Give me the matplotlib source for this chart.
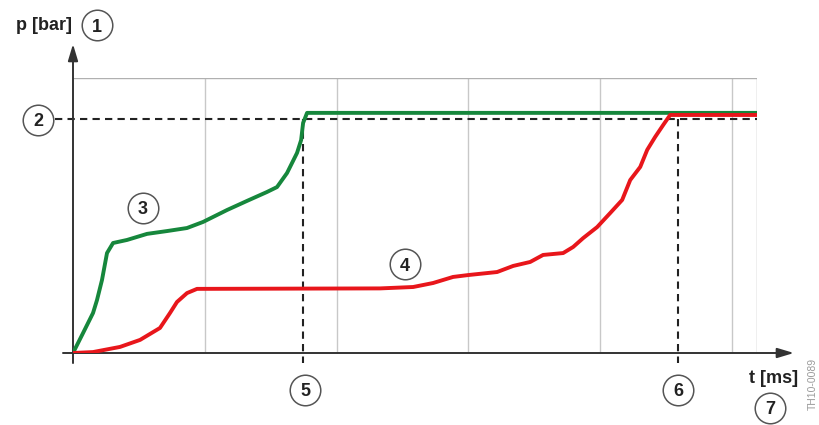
import matplotlib
matplotlib.use("Agg")
import matplotlib.pyplot as plt

plt.rcParams["font.family"] = ["Liberation Sans", "DejaVu Sans"]

# pressure build-up curves, t in ms, p in bar
t_green = [0, 0.076, 0.152, 0.182, 0.220, 0.258, 0.304, 0.410, 0.562, 0.713,
           0.865, 0.987, 1.169, 1.321, 1.472, 1.548, 1.624, 1.700, 1.731,
           1.746, 1.776, 5.19]
p_green = [0, 0.85, 1.71, 2.26, 3.12, 4.27, 4.70, 4.83, 5.09, 5.21,
           5.34, 5.60, 6.11, 6.50, 6.88, 7.09, 7.69, 8.55, 9.10,
           9.83, 10.26, 10.26]

t_red = [0, 0.152, 0.357, 0.509, 0.660, 0.736, 0.789, 0.865, 0.941, 2.33,
         2.581, 2.732, 2.884, 2.998, 3.218, 3.340, 3.469, 3.567, 3.719, 3.795,
         3.871, 3.977, 4.076, 4.167, 4.228, 4.304, 4.357, 4.417, 4.478, 4.531,
         5.19]
p_red = [0, 0.04, 0.26, 0.56, 1.07, 1.71, 2.18, 2.56, 2.74, 2.76,
         2.82, 2.99, 3.25, 3.33, 3.46, 3.72, 3.89, 4.19, 4.27, 4.53,
         4.91, 5.38, 5.98, 6.54, 7.39, 7.95, 8.68, 9.23, 9.74, 10.17,
         10.17]

grid_t = [1, 2, 3, 4, 5]
p_set = 10.0              # marker 2
t_marks = [1.746, 4.592]  # markers 5 and 6
t_max, p_max = 5.19, 11.75

GREEN = "#16873c"
RED = "#e8161b"
AXIS = "#333333"

fig = plt.figure(figsize=(8.2, 4.25), dpi=100)
ax = fig.add_axes([73 / 820, 72 / 425, 684 / 820, 275 / 425])
ax.set_xlim(0, t_max)
ax.set_ylim(0, p_max)
ax.axis("off")

# light frame + grid
for t in grid_t:
    ax.plot([t, t], [0, p_max], color="#c8c8c8", lw=1, zorder=1)
ax.plot([0, t_max, t_max], [p_max, p_max, 0], color="#b0b0b0", lw=1, zorder=1)

# axes with arrows
arrow = dict(arrowstyle="-|>,head_length=1.0,head_width=0.3",
             color=AXIS, lw=1.4, shrinkA=0, shrinkB=0)
ax.annotate("", xy=(0, 13.2), xytext=(0, -0.43), arrowprops=arrow,
            annotation_clip=False)
ax.annotate("", xy=(5.47, 0), xytext=(-0.076, 0), arrowprops=arrow,
            annotation_clip=False)

# dashed reference lines
ax.plot([-0.137, t_max], [p_set, p_set], color="#222222", lw=1.5,
        ls=(0, (3.5, 2.5)), clip_on=False, zorder=2)
for t in t_marks:
    ax.plot([t, t], [p_set, -0.43], color="#222222", lw=1.5,
            ls=(0, (3.5, 2.5)), clip_on=False, zorder=2)

ax.plot(t_green, p_green, color=GREEN, lw=2.8, solid_joinstyle="round", zorder=3)
ax.plot(t_red, p_red, color=RED, lw=2.8, solid_joinstyle="round", zorder=4)

# numbered callouts
callouts = [("1", 0.182, 14.0), ("2", -0.266, 9.96), ("3", 0.531, 6.20),
            ("4", 2.52, 3.80), ("5", 1.761, -1.58), ("6", 4.592, -1.58),
            ("7", 5.29, -2.35)]
for label, t, p in callouts:
    ax.plot(t, p, "o", ms=22, mfc="white", mec="#555555", mew=1.1,
            clip_on=False, zorder=5)
    ax.text(t, p, label, ha="center", va="center_baseline", fontsize=13,
            fontweight="bold", color="#222222", clip_on=False, zorder=6)

ax.text(-0.01, 14.0, "p [bar]", ha="right", va="center", fontsize=13,
        fontweight="bold", color="#222222")
ax.text(5.313, -1.07, "t [ms]", ha="center", va="center", fontsize=13,
        fontweight="bold", color="#222222")
ax.text(5.617, -1.32, "TH10-0089", ha="center", va="center", fontsize=7.5,
        rotation=90, color="#9a9a9a")

fig.savefig("out.png", dpi=100)
